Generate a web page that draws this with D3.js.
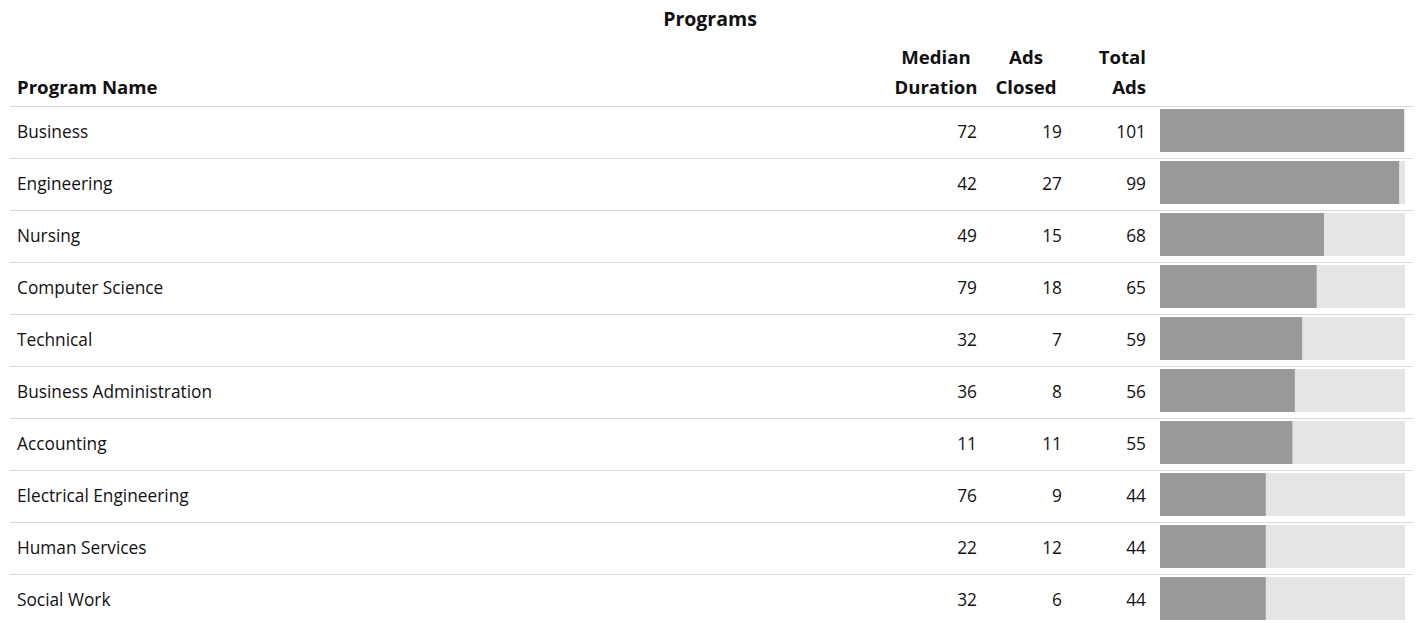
<!DOCTYPE html>
<html>
<head>
<meta charset="utf-8">
<script src="https://cdn.jsdelivr.net/npm/d3@7"></script>
<style>
    body { margin: 0; background: #fff; }
    svg text { font-family: "Open Sans", sans-serif; fill: #111; }
</style>
</head>
<body>
<svg id="table"></svg>
<script>
const programs = ["Business", "Engineering", "Nursing", "Computer Science", "Technical",
    "Business Administration", "Accounting", "Electrical Engineering", "Human Services", "Social Work"]
const medianDuration = [72, 42, 49, 79, 32, 36, 11, 76, 22, 32]
const adsClosed = [19, 27, 15, 18, 7, 8, 11, 9, 12, 6]
const totalAds = [101, 99, 68, 65, 59, 56, 55, 44, 44, 44]

const width = 1416, height = 623
const fontSize = 17.3, headSize = 18.6, titleSize = 19.5

let svg = d3.select("#table").attr('width', width).attr('height', height)

let rows = programs.map((p, i) => ({
    name: p, median: medianDuration[i], closed: adsClosed[i], total: totalAds[i]
}))

let scale_y = d3.scaleBand()
    .domain(programs)
    .range([106, 106 + 52 * programs.length])

let scale_x = d3.scaleLinear()
    .domain([0, d3.max(totalAds)])
    .range([1160, 1405])

// title
svg.append('text')
    .attr('x', 710).attr('y', 26)
    .attr('text-anchor', 'middle')
    .style('font-weight', 'bold').style('font-size', titleSize + 'px')
    .text('Programs')

// headers
const headers = [
    {lines: ['Program Name'], x: 17, anchor: 'start'},
    {lines: ['Median', 'Duration'], x: 936, anchor: 'middle'},
    {lines: ['Ads', 'Closed'], x: 1026, anchor: 'middle'},
    {lines: ['Total', 'Ads'], x: 1146, anchor: 'end'}
]
headers.forEach(h => {
    let n = h.lines.length
    h.lines.forEach((l, j) => {
        svg.append('text')
            .attr('x', h.x).attr('y', 94 - (n - 1 - j) * 30)
            .attr('text-anchor', h.anchor)
            .style('font-weight', 'bold').style('font-size', headSize + 'px')
            .text(l)
    })
})

let g = svg.selectAll('g.row').data(rows).enter().append('g')
    .attr('class', 'row')
    .attr('transform', d => 'translate(0,' + scale_y(d.name) + ')')

g.append('line')
    .attr('x1', 10).attr('x2', 1413)
    .attr('y1', 0.5).attr('y2', 0.5)
    .attr('stroke', '#d9d9d9').attr('stroke-width', 1)

g.append('text').attr('x', 17).attr('y', 31.5)
    .style('font-size', fontSize + 'px').text(d => d.name)
g.append('text').attr('x', 977).attr('y', 31.5).attr('text-anchor', 'end')
    .style('font-size', fontSize + 'px').text(d => d.median)
g.append('text').attr('x', 1062).attr('y', 31.5).attr('text-anchor', 'end')
    .style('font-size', fontSize + 'px').text(d => d.closed)
g.append('text').attr('x', 1146).attr('y', 31.5).attr('text-anchor', 'end')
    .style('font-size', fontSize + 'px').text(d => d.total)

// background bar
g.append('rect')
    .attr('x', scale_x(0)).attr('y', 3)
    .attr('width', scale_x(d3.max(totalAds)) - scale_x(0))
    .attr('height', 43)
    .attr('fill', '#e5e5e5')
g.append('rect')
    .attr('x', scale_x(0)).attr('y', 3)
    .attr('width', d => scale_x(d.total) - scale_x(0) - 1)
    .attr('height', 43)
    .attr('fill', '#999999')
</script>
</body>
</html>
